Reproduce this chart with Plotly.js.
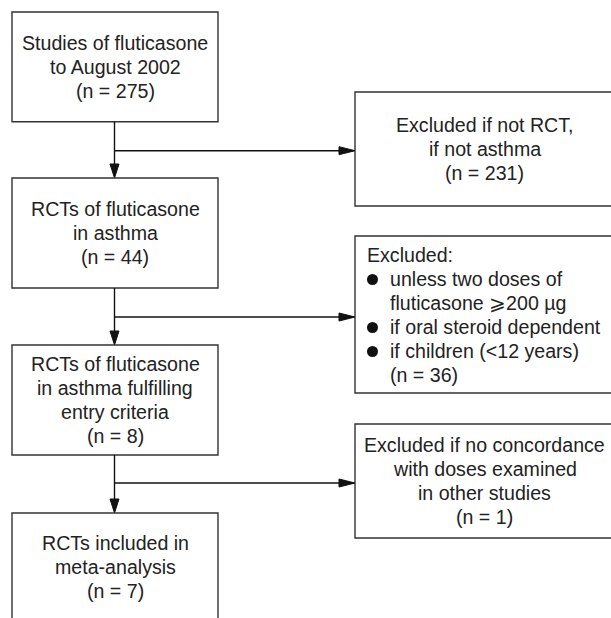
<!DOCTYPE html>
<html>
<head>
<meta charset="utf-8">
<script src="https://cdn.plot.ly/plotly-3.0.1.min.js"></script>
<style>html,body{margin:0;padding:0;background:#fff;}#chart{width:611px;height:618px;}</style>
</head>
<body>
<div id="chart"></div>
<script>
// ---- content (data) ----
const stageTitles = [
  ["Studies of fluticasone", "to August 2002"],
  ["RCTs of fluticasone", "in asthma"],
  ["RCTs of fluticasone", "in asthma fulfilling", "entry criteria"],
  ["RCTs included in", "meta-analysis"]
];
const stageCounts = [275, 44, 8, 7];

const exclusionTitles = [
  ["Excluded if not RCT,", "if not asthma"],
  null,
  ["Excluded if no concordance", "with doses examined", "in other studies"]
];
const exclusionCounts = [231, 36, 1];
const exclusionHeader = "Excluded:";
const exclusionBullets = [
  ["unless two doses of", "fluticasone \u2A7E200 \u00B5g"],
  ["if oral steroid dependent"],
  ["if children (<12 years)"]
];

// ---- layout geometry ----
const W = 611, H = 618;
const LS = 24.3;
const FONT = {family: "Liberation Sans, Arial, sans-serif", size: 19.6, color: "#222"};
const leftX = [12, 218];
const leftY = [[12, 121.7], [178, 288], [345, 455], [513, 621]];
const rightX = [355, 614];
const rightY = [[92, 206], [236, 393], [424, 538]];
const trunkX = 114.5;
const branchY = [150.7, 317, 483];
const LINE = {color: "#111", width: 1.4};
const BOX = {color: "#333", width: 1.4};
const BULLET_X = 372.5, BULLET_R = 5.5;

const shapes = [];
const annotations = [];

function rect(x0, x1, y0, y1) {
  shapes.push({type: "rect", xref: "x", yref: "y", x0, x1, y0, y1, line: BOX, fillcolor: "rgba(0,0,0,0)"});
}
function seg(x0, y0, x1, y1) {
  shapes.push({type: "line", xref: "x", yref: "y", x0, y0, x1, y1, line: LINE});
}
function tri(path) {
  shapes.push({type: "path", xref: "x", yref: "y", path, fillcolor: "#111", line: {color: "#111", width: 1}});
}
function dot(cx, cy) {
  shapes.push({type: "circle", xref: "x", yref: "y", x0: cx - BULLET_R, x1: cx + BULLET_R,
    y0: cy - BULLET_R, y1: cy + BULLET_R, fillcolor: "#111", line: {width: 0}});
}
function label(text, x, y, xanchor) {
  annotations.push({text, x, y, xref: "x", yref: "y", xanchor: xanchor || "center", yanchor: "middle",
    showarrow: false, font: FONT, align: xanchor === "left" ? "left" : "center"});
}
function centeredLines(lines, cx, cy) {
  const n = lines.length;
  lines.forEach((t, i) => label(t, cx, cy + (i - (n - 1) / 2) * LS));
}

// left column
stageTitles.forEach((lines, i) => {
  const [y0, y1] = leftY[i];
  rect(leftX[0], leftX[1], y0, y1);
  centeredLines(lines.concat(["(n = " + stageCounts[i] + ")"]), (leftX[0] + leftX[1]) / 2, (y0 + y1) / 2);
  if (i < stageTitles.length - 1) {
    const tipY = leftY[i + 1][0];
    seg(trunkX, y1, trunkX, tipY - 2);
    tri(`M ${trunkX} ${tipY} L ${trunkX - 4.5} ${tipY - 14} L ${trunkX + 4.5} ${tipY - 14} Z`);
  }
});

// right column
exclusionCounts.forEach((cnt, i) => {
  const [y0, y1] = rightY[i];
  rect(rightX[0], rightX[1], y0, y1);
  const by = branchY[i];
  seg(trunkX, by, rightX[0] - 2, by);
  tri(`M ${rightX[0]} ${by} L ${rightX[0] - 16} ${by - 4} L ${rightX[0] - 16} ${by + 4} Z`);
  if (exclusionTitles[i]) {
    centeredLines(exclusionTitles[i].concat(["(n = " + cnt + ")"]), (rightX[0] + rightX[1]) / 2, (y0 + y1) / 2);
  } else {
    // bulleted list, left aligned
    const rows = [{t: exclusionHeader, x: 365, b: false}];
    exclusionBullets.forEach(item => item.forEach((t, k) => rows.push({t, x: 388, b: k === 0})));
    rows.push({t: "(n = " + cnt + ")", x: 388, b: false});
    const cy = (y0 + y1) / 2, n = rows.length, rs = 24;
    rows.forEach((r, k) => {
      const yy = cy + (k - (n - 1) / 2) * rs;
      label(r.t, r.x, yy, "left");
      if (r.b) dot(BULLET_X, yy + 1);
    });
  }
});

const data = [{type: "scatter", x: [], y: [], mode: "markers", hoverinfo: "skip", showlegend: false}];
const layout = {
  width: W, height: H,
  margin: {l: 0, r: 0, t: 0, b: 0, pad: 0},
  paper_bgcolor: "#fff", plot_bgcolor: "#fff",
  xaxis: {range: [0, W], visible: false, fixedrange: true},
  yaxis: {range: [H, 0], visible: false, fixedrange: true},
  showlegend: false,
  shapes, annotations
};
Plotly.newPlot("chart", data, layout, {staticPlot: true, displayModeBar: false});
</script>
</body>
</html>
